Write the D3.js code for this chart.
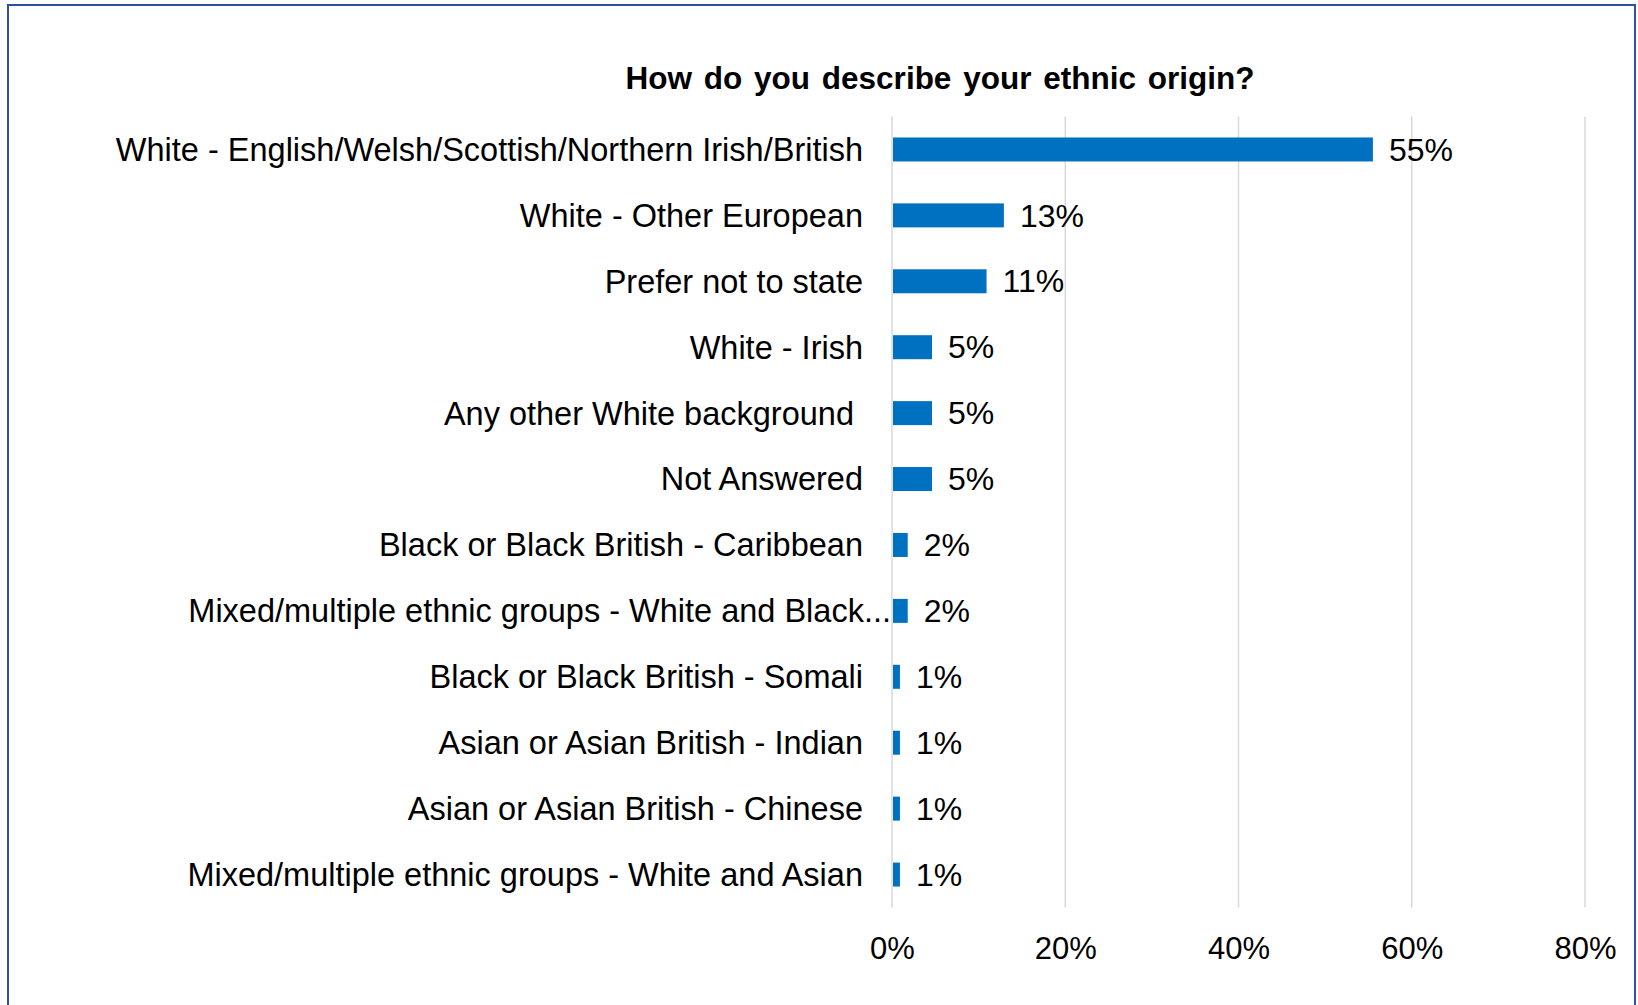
<!DOCTYPE html>
<html>
<head>
<meta charset="utf-8">
<script src="https://cdn.jsdelivr.net/npm/d3@7"></script>
<style>
  html, body { margin: 0; padding: 0; background: #fff; }
  svg { display: block; font-family: "Liberation Sans", Arial, sans-serif; }
</style>
</head>
<body>
<div id="chart"></div>
<script>
// data
var categories = [
    "White - English/Welsh/Scottish/Northern Irish/British",
    "White - Other European",
    "Prefer not to state",
    "White - Irish",
    "Any other White background ",
    "Not Answered",
    "Black or Black British - Caribbean",
    "Mixed/multiple ethnic groups - White and Black...",
    "Black or Black British - Somali",
    "Asian or Asian British - Indian",
    "Asian or Asian British - Chinese",
    "Mixed/multiple ethnic groups - White and Asian"
];
var values = [55.4, 12.8, 10.8, 4.5, 4.5, 4.5, 1.7, 1.7, 0.8, 0.8, 0.8, 0.8];
var valueLabels = ["55%", "13%", "11%", "5%", "5%", "5%", "2%", "2%", "1%", "1%", "1%", "1%"];
var ticks = [0, 20, 40, 60, 80];
var title = "How do you describe your ethnic origin?";

// svg size
var svgWidth = 1638;
var svgHeight = 1005;

// plot area
var plot = { left: 892, right: 1585, top: 116.5, bottom: 907.5 };

var svg = d3.select("#chart")
    .append("svg")
    .attr("width", svgWidth)
    .attr("height", svgHeight);

// frame round the chart
svg.append("rect")
    .attr("x", 8)
    .attr("y", 5)
    .attr("width", 1627)
    .attr("height", 1010)
    .attr("fill", "none")
    .attr("stroke", "#2f4f9f")
    .attr("stroke-width", 2);

// scales
var x = d3.scaleLinear()
    .domain([0, 80])
    .range([plot.left, plot.right]);

var y = d3.scaleBand()
    .domain(categories)
    .range([plot.top, plot.bottom])
    .paddingInner(0.636)
    .paddingOuter(0.318);

// gridlines
svg.append("g")
    .selectAll("line")
    .data(ticks)
    .enter()
    .append("line")
    .attr("x1", d => x(d))
    .attr("x2", d => x(d))
    .attr("y1", plot.top)
    .attr("y2", plot.bottom)
    .attr("stroke", "#d9d9d9")
    .attr("stroke-width", 1.5);

// x axis, labels only
var xaxis = d3.axisBottom(x)
    .tickValues(ticks)
    .tickFormat(d => d + "%")
    .tickSize(0)
    .tickPadding(0);

var xg = svg.append("g")
    .attr("transform", `translate(0, 958.5)`)
    .call(xaxis);
xg.select(".domain").remove();
xg.selectAll("text")
    .attr("fill", "#000")
    .attr("dy", "0")
    .style("font-size", "31px")
    .style("font-family", "'Liberation Sans', Arial, sans-serif");

// bars
svg.selectAll(".bar")
    .data(values)
    .enter()
    .append("rect")
    .attr("class", "bar")
    .attr("x", x(0) + 1)
    .attr("y", (d, i) => y(categories[i]))
    .attr("width", d => x(d) - x(0))
    .attr("height", y.bandwidth())
    .attr("fill", "#0070c0");

// category labels
svg.selectAll(".cat")
    .data(categories)
    .enter()
    .append("text")
    .attr("class", "cat")
    .attr("x", (d, i) => i === 7 ? x(0) - 1 : x(0) - 29)
    .attr("y", d => y(d) + y.bandwidth() / 2)
    .attr("dy", "0.35em")
    .attr("text-anchor", "end")
    .style("white-space", "pre")
    .style("font-size", "32.5px")
    .attr("fill", "#000")
    .text(d => d);

// value labels
svg.selectAll(".val")
    .data(values)
    .enter()
    .append("text")
    .attr("class", "val")
    .attr("x", d => x(d) + 17)
    .attr("y", (d, i) => y(categories[i]) + y.bandwidth() / 2)
    .attr("dy", "0.35em")
    .style("font-size", "32px")
    .attr("fill", "#000")
    .text((d, i) => valueLabels[i]);

// title
svg.append("text")
    .attr("x", 940)
    .attr("y", 78)
    .attr("dy", "0.35em")
    .attr("text-anchor", "middle")
    .style("font-size", "31.5px")
    .style("font-weight", "bold")
    .style("word-spacing", "3px")
    .attr("fill", "#000")
    .text(title);
</script>
</body>
</html>
